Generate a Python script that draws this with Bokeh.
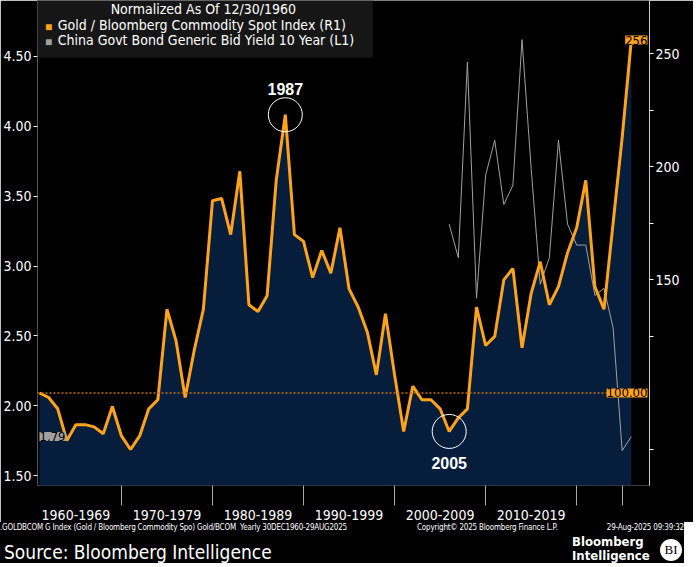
import numpy as np
from bokeh.plotting import figure
from bokeh.layouts import column
from bokeh.models import (Range1d, LinearAxis, FixedTicker, Label, Span, BoxAnnotation,
                          CustomJSTickFormatter, Div)
from bokeh.embed import file_html
from bokeh.resources import INLINE

FONT = "Liberation Sans Narrow, DejaVu Sans Condensed, Liberation Sans, sans-serif"

years = list(range(1960, 2026))
gold_bcom = [100, 98, 93, 79, 86, 86, 85, 82, 94, 81,
             75, 81, 93, 97, 137, 123, 98, 119, 137, 185,
             186, 170, 198, 139, 136, 143, 194, 223, 170, 167,
             151, 163, 153, 173, 146, 138, 127, 108, 135, 108,
             83, 103, 97, 97, 93, 83, 89, 93, 138, 121,
             125, 150, 155, 120, 144, 158, 139, 147, 162, 173,
             194, 147, 137, 175, 213, 256]
cn_years = list(range(2005, 2026))
cn_yield = [3.30, 3.06, 4.46, 2.77, 3.65, 3.90, 3.44, 3.58, 4.62, 3.70,
            2.87, 3.06, 3.90, 3.30, 3.15, 3.15, 2.79, 2.84, 2.56, 1.68, 1.78]

decade_centers = [1964, 1974, 1984, 1994, 2004, 2014]
decade_labels = ["1960-1969", "1970-1979", "1980-1989", "1990-1999", "2000-2009", "2010-2019"]
decade_bounds = [1969, 1979, 1989, 1999, 2009, 2019, 2024]

ORANGE = "#ffa31a"
NAVY = "#061e3b"
X0, X1 = 1959.78, 2027.0

p = figure(frame_width=612, frame_height=485, min_border_left=28, min_border_right=44,
           min_border_top=0, min_border_bottom=25,
           x_range=Range1d(X0, X1), y_range=Range1d(1.43, 4.90),
           output_backend="svg", toolbar_location=None,
           background_fill_color="black", border_fill_color="black")
p.outline_line_color = None
p.grid.grid_line_color = None
p.extra_y_ranges = {"r": Range1d(59.1, 273.5)}

p.varea(x=years, y1=59.1, y2=gold_bcom, y_range_name="r", fill_color=NAVY)
p.line(cn_years, cn_yield, line_color="#a0a0a0", line_width=1)
p.line(years, gold_bcom, y_range_name="r", line_color=ORANGE, line_width=3)
p.add_layout(Span(location=100, dimension="width", y_range_name="r",
                  line_color="#c0701a", line_dash="2 2", line_width=1.5))

# axes
p.yaxis.ticker = FixedTicker(ticks=[1.5, 2.0, 2.5, 3.0, 3.5, 4.0, 4.5])
p.yaxis.formatter = CustomJSTickFormatter(code="return tick.toFixed(2)")
ax = LinearAxis(y_range_name="r",
                ticker=FixedTicker(ticks=[150, 200, 250], minor_ticks=[75, 125, 175, 225]))
p.add_layout(ax, "right")
for a in (p.yaxis[0], ax):
    a.axis_line_color = "#cccccc"
    a.major_tick_line_color = "white"
    a.minor_tick_line_color = "white"
    a.major_tick_out = 4
    a.major_tick_in = 0
    a.minor_tick_out = 4
    a.minor_tick_in = 0
    a.major_label_text_color = "white"
    a.major_label_text_font = FONT
    a.major_label_text_font_size = "14px"
    a.major_label_standoff = 2
p.yaxis[0].axis_line_color = "#555555"

xa = p.xaxis[0]
xa.ticker = FixedTicker(ticks=decade_centers, minor_ticks=decade_bounds)
xa.major_label_overrides = {c: l for c, l in zip(decade_centers, decade_labels)}
xa.major_tick_line_color = None
xa.minor_tick_out = 20
xa.minor_tick_in = 0
xa.minor_tick_line_color = "#aaaaaa"
xa.axis_line_color = None
xa.major_label_text_color = "white"
xa.major_label_text_font = FONT
xa.major_label_text_font_size = "14px"
xa.major_label_standoff = 4

# legend box
p.add_layout(BoxAnnotation(left=X0, right=1996.6, bottom=4.49, top=4.90,
                           fill_color="#161616", fill_alpha=1, line_color=None))
p.add_layout(Label(x=1978, y=4.78, text="Normalized As Of 12/30/1960", text_align="center",
                   text_color="white", text_font=FONT, text_font_size="14px"))
for yy, col, txt in [(4.67, ORANGE, "Gold / Bloomberg Commodity Spot Index (R1)"),
                     (4.56, "#a0a0a0", "China Govt Bond Generic Bid Yield 10 Year (L1)")]:
    p.add_layout(Label(x=1960.6, y=yy, text="\u25a0", text_color=col, text_font_size="12px",
                       y_offset=-1))
    p.add_layout(Label(x=1962.0, y=yy, text=txt, text_color="white",
                       text_font=FONT, text_font_size="14px"))

# highlight circles
p.scatter([1987], [223], y_range_name="r", size=34, fill_color=None, line_color="white")
p.scatter([2005], [83], y_range_name="r", size=34, fill_color=None, line_color="white")
p.add_layout(Label(x=1987, y=223, y_range_name="r", y_offset=20, text="1987", text_align="center",
                   text_color="white", text_font_style="bold", text_font_size="16px"))
p.add_layout(Label(x=2005, y=83, y_range_name="r", y_offset=-38, text="2005", text_align="center",
                   text_color="white", text_font_style="bold", text_font_size="16px"))

# value callouts, kept just inside the frame
for v, t in [(gold_bcom[-1], "256"), (100, "100.00")]:
    p.add_layout(Label(x=X1, y=v, y_range_name="r", x_offset=-2, text=t, text_align="right",
                       text_baseline="middle", text_color="black", background_fill_color=ORANGE,
                       text_font=FONT, text_font_size="13px"))
p.add_layout(Label(x=X0, y=cn_yield[-1], text="1.79", x_offset=2, text_align="left",
                   text_baseline="middle", text_color="black", background_fill_color="#a0a0a0",
                   text_font=FONT, text_font_size="13px"))

small = "font-size:8px;letter-spacing:-0.2px;position:absolute;top:0;white-space:nowrap;"
footer = Div(width=684, height=41, styles={"background": "black", "color": "white",
             "font-family": FONT, "margin": "0", "position": "relative"}, text=f"""
<div style="{small}left:0">.GOLDBCOM G Index (Gold / Bloomberg Commodity Spo) Gold/BCOM&nbsp; Yearly 30DEC1960-29AUG2025</div>
<div style="{small}left:417px">Copyright&copy; 2025 Bloomberg Finance L.P.</div>
<div style="{small}right:0">29-Aug-2025 09:39:32</div>
<div style="font-size:19px;position:absolute;left:4px;top:17px;white-space:nowrap">Source: Bloomberg Intelligence</div>
<div style="font-size:13px;font-weight:bold;line-height:14px;position:absolute;left:572px;top:13px">Bloomberg<br>Intelligence</div>
<div style="font-size:13px;position:absolute;left:660px;top:17px;width:22px;height:22px;border-radius:11px;background:white;color:black;text-align:center;line-height:22px;font-family:serif">BI</div>
""")

open("out.html", "w").write(file_html(column(p, footer, spacing=0), INLINE))
